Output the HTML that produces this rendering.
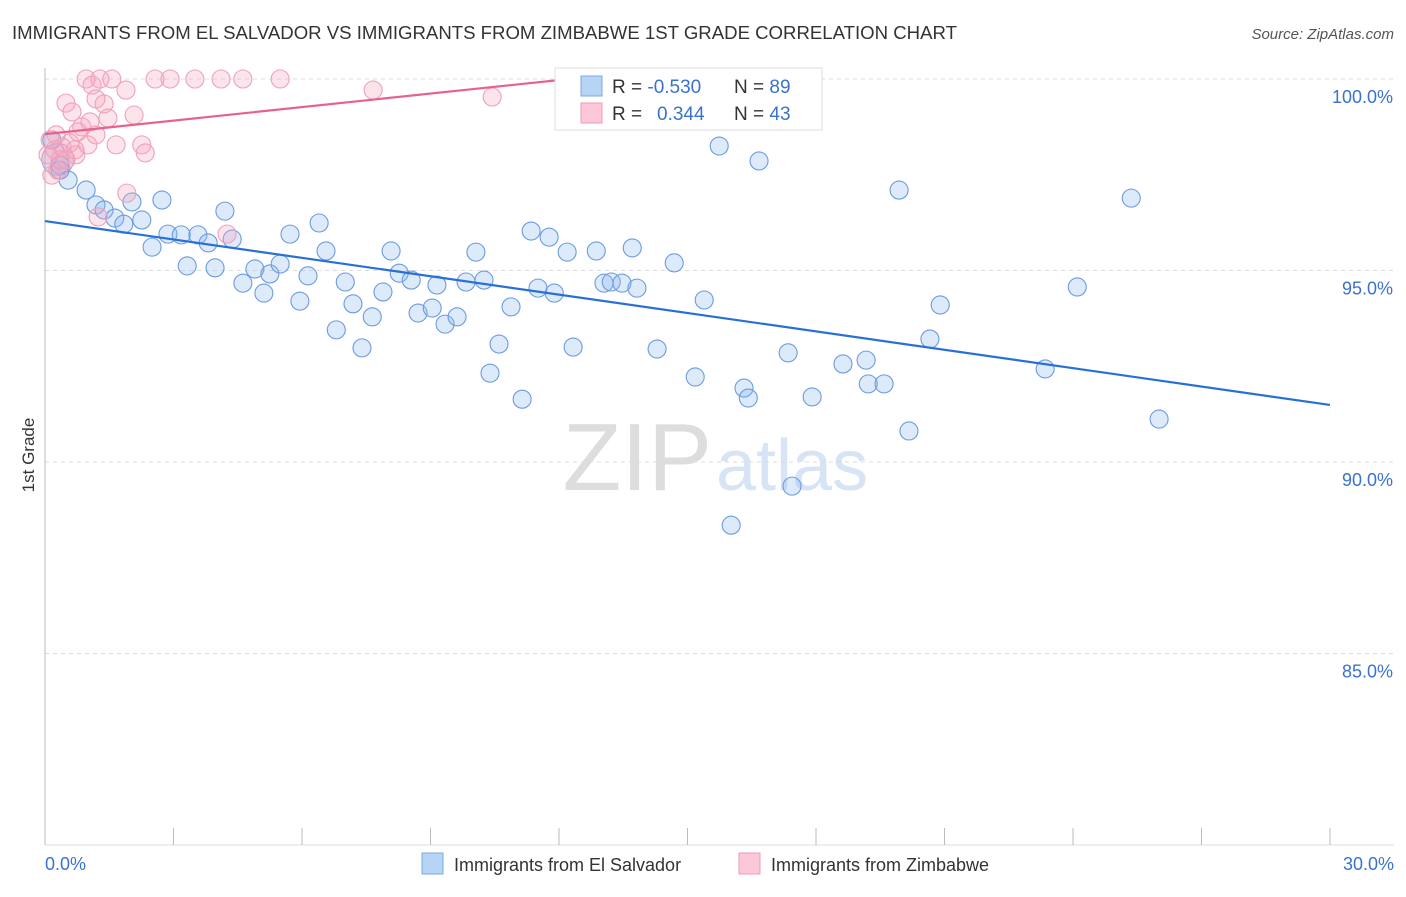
<!DOCTYPE html>
<html><head><meta charset="utf-8"><style>
body{margin:0;background:#fff;font-family:"Liberation Sans",sans-serif;}
svg text{font-family:"Liberation Sans",sans-serif;}
</style></head><body>
<svg id="c" width="1406" height="892">
<text x="12" y="39" font-size="18.6" fill="#333">IMMIGRANTS FROM EL SALVADOR VS IMMIGRANTS FROM ZIMBABWE 1ST GRADE CORRELATION CHART</text>
<text x="1394" y="39" font-size="15" fill="#555" font-style="italic" text-anchor="end">Source: ZipAtlas.com</text>
<text x="34" y="455" font-size="17" fill="#333" transform="rotate(-90 34 455)" text-anchor="middle">1st Grade</text>
<text x="712" y="490" font-size="96" fill="#ddd" text-anchor="end" font-family="Liberation Serif">ZIP</text>
<text x="716" y="490" font-size="72" fill="#d6e4f5">atlas</text>
<g id="grid"></g><g id="axes"></g><g id="pts"></g><g id="lines"></g>
<g>
<rect x="555" y="68" width="267" height="62" fill="#fff" stroke="#ddd"/>
<rect x="581" y="76" width="21" height="20" fill="#b8d4f5" stroke="#7aa9e6"/>
<rect x="581" y="103" width="21" height="20" fill="#fcc8d8" stroke="#f09ab5"/>
<text x="612" y="93" font-size="19" fill="#333">R = <tspan fill="#3a72d0">-0.530</tspan></text>
<text x="734" y="93" font-size="19" fill="#333">N = <tspan fill="#3a72d0">89</tspan></text>
<text x="612" y="120" font-size="19" fill="#333">R = <tspan fill="#3a72d0" x="657">0.344</tspan></text>
<text x="734" y="120" font-size="19" fill="#333">N = <tspan fill="#3a72d0">43</tspan></text>
</g>
<g>
<rect x="422" y="853" width="21" height="21" fill="#b8d4f5" stroke="#7aa9e6"/>
<text x="454" y="871" font-size="18" fill="#333">Immigrants from El Salvador</text>
<rect x="739" y="853" width="21" height="21" fill="#fcc8d8" stroke="#f09ab5"/>
<text x="771" y="871" font-size="18" fill="#333">Immigrants from Zimbabwe</text>
</g>
</svg>
<script>
const blueX=[.16,.35,.54,.96,1.19,1.38,1.63,1.84,2.03,2.26,2.50,2.73,2.87,3.18,3.32,3.57,3.81,3.97,4.20,4.37,4.62,4.90,5.11,5.25,5.49,5.72,5.95,6.14,6.40,6.56,6.80,7.01,7.19,7.40,7.64,7.89,8.08,8.27,8.55,8.71,9.04,9.15,9.34,9.62,9.83,10.06,10.25,10.39,10.60,10.88,11.14,11.35,11.51,11.77,11.89,12.19,12.33,12.87,13.05,13.22,13.47,13.71,13.82,14.29,14.69,15.18,15.39,15.74,16.02,16.32,16.42,16.67,17.35,17.44,17.91,18.63,19.17,19.22,19.59,19.94,20.17,20.66,20.90,23.35,24.10,25.36,26.01,12.63,.35];
const blueY=[98.41,97.75,97.36,97.10,96.71,96.58,96.37,96.21,96.79,96.32,95.61,96.84,95.95,95.93,95.12,95.93,95.72,95.07,96.55,95.82,94.67,95.04,94.41,94.91,95.17,95.95,94.20,94.86,96.24,95.51,93.45,94.70,94.13,92.98,93.79,94.44,95.51,94.93,94.75,93.89,94.02,94.62,93.60,93.79,94.70,95.48,94.75,92.32,93.08,94.05,91.64,96.03,94.54,95.87,94.41,95.48,93.00,95.51,94.67,94.70,94.67,95.59,94.54,92.95,95.20,92.22,94.23,98.25,88.35,91.93,91.67,97.86,92.85,89.37,91.70,92.56,92.66,92.04,92.04,97.10,90.81,93.21,94.10,92.43,94.57,96.89,91.12,99.74,97.62];
const pinkX=[.12,.23,.35,.30,.16,.49,.63,.77,.86,.96,1.10,1.19,1.28,1.38,1.47,1.56,1.66,1.89,1.91,2.08,2.26,2.34,2.57,2.92,3.50,4.11,4.62,5.49,7.66,10.44,16.56,1.24,4.25,.40,.58,.72,1.00,1.05,1.19,.07,.49,.70,.26];
const pinkY=[98.41,98.15,97.89,97.62,97.49,99.37,99.14,98.62,98.75,100,99.84,99.48,100,99.35,98.98,100,98.28,99.71,97.02,99.06,98.28,98.07,100,100,100,100,100,100,99.71,99.53,100,96.40,95.95,98.22,98.33,98.02,98.28,98.88,98.54,98.02,97.89,98.15,98.54];
const blueTrend=[96.29,91.49]; // y at x=0 and x=30
const pinkTrend=[98.56,100.03]; const pinkTrendEnd=12.49;
const yTicks=[100,95,90,85];
const xTickLabels=["0.0%","30.0%"];
const NS="http://www.w3.org/2000/svg";
const sx=v=>45+v/30*1285, sy=v=>79+(100-v)/5*191.5;
function mk(t,a,p){const e=document.createElementNS(NS,t);for(const k in a)e.setAttribute(k,a[k]);document.getElementById(p).appendChild(e);return e;}
yTicks.forEach(t=>{
 const l=mk('line',{x1:45,x2:1394,y1:sy(t),y2:sy(t),stroke:'#ddd','stroke-dasharray':'4 4'},'grid');
 
 
 const tx=mk('text',{x:1393,y:sy(t)+24,'font-size':18,fill:'#3a72d0','text-anchor':'end'},'grid');
 tx.textContent=t.toFixed(1)+'%';
 
 
});
mk('line',{x1:45,x2:45,y1:68,y2:845,stroke:'#bbb'},'axes');
mk('line',{x1:45,x2:1394,y1:845,y2:845,stroke:'#ddd'},'axes');
for(let k=1;k<=10;k++){const t=mk('line',{x1:sx(k*3),x2:sx(k*3),y1:828,y2:845,stroke:'#bbb'},'axes');
 
 }
[[0,'start',45],[30,'end',1394]].forEach((d,i)=>{const t=mk('text',{x:d[2],y:870,'font-size':18,fill:'#3a72d0','text-anchor':d[1]},'axes');t.textContent=xTickLabels[i];
 
 });
const blob=mk('circle',{cx:sx(0.3),cy:sy(97.9),r:16,fill:'rgba(170,150,200,0.3)',stroke:'#a8a0d8','stroke-width':1},'pts');


blueX.forEach((x,i)=>{const c=mk('circle',{cx:sx(x),cy:sy(blueY[i]),r:9,fill:'rgba(140,185,240,0.3)',stroke:'#6b9be0','stroke-width':1.1},'pts');
 
 });
pinkX.forEach((x,i)=>{const c=mk('circle',{cx:sx(x),cy:sy(pinkY[i]),r:9,fill:'rgba(245,165,190,0.3)',stroke:'#efa0bb','stroke-width':1.1},'pts');
 
 });
const bl=mk('line',{x1:sx(0),y1:sy(blueTrend[0]),x2:sx(30),y2:sy(blueTrend[1]),stroke:'#2a6fd6','stroke-width':2.2},'lines');


const pl=mk('line',{x1:sx(0),y1:sy(pinkTrend[0]),x2:sx(pinkTrendEnd),y2:sy(pinkTrend[1]),stroke:'#e8608c','stroke-width':2.2},'lines');


</script>
</body></html>
